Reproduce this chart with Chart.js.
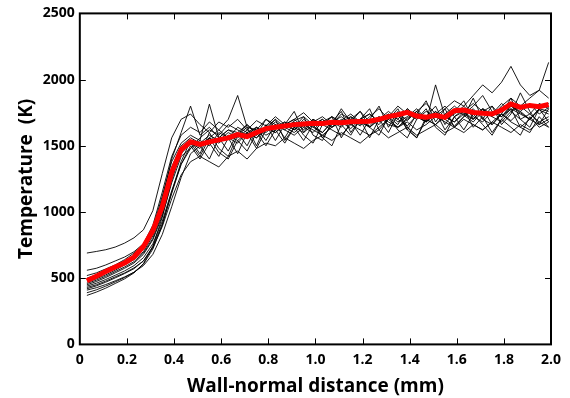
<!DOCTYPE html>
<html>
<head>
<meta charset="utf-8">
<script src="https://cdn.jsdelivr.net/npm/chart.js@4.4.0/dist/chart.umd.min.js"></script>
<style>
  html, body { margin: 0; padding: 0; background: #fff; }
  #wrap { width: 570px; height: 398px; }
</style>
</head>
<body>
<div id="wrap"><canvas id="myChart"></canvas></div>
<script>
// wall-normal distance (mm) of each sample
var xDist = [0.03,0.07,0.11,0.15,0.19,0.23,0.27,0.31,0.35,0.39,
             0.43,0.47,0.51,0.55,0.59,0.63,0.67,0.71,0.75,0.79,
             0.83,0.87,0.91,0.95,0.99,1.03,1.07,1.11,1.15,1.19,
             1.23,1.27,1.31,1.35,1.39,1.43,1.47,1.51,1.55,1.59,
             1.63,1.67,1.71,1.75,1.79,1.83,1.87,1.91,1.95,1.99];

// mean temperature (red)
var meanTemp = [480,515,550,585,615,660,740,860,1040,1300,
                1470,1530,1510,1530,1545,1560,1585,1570,1600,1630,
                1640,1650,1660,1665,1670,1668,1677,1675,1682,1684,
                1686,1700,1720,1735,1752,1725,1715,1730,1715,1765,
                1770,1752,1745,1740,1770,1816,1790,1805,1795,1812];

// single shots (black)
var run1 = [690,702,715,735,765,805,865,1010,1290,1560,
            1700,1740,1660,1600,1680,1640,1700,1620,1690,1650,
            1720,1660,1700,1750,1680,1720,1660,1740,1700,1650,
            1720,1780,1700,1750,1690,1760,1820,1740,1700,1780,
            1730,1680,1760,1800,1720,1780,1740,1700,1770,1740];
var run2 = [560,575,600,630,660,700,760,900,1150,1420,
            1580,1640,1600,1680,1620,1700,1880,1640,1620,1700,
            1660,1620,1690,1720,1660,1700,1640,1690,1740,1680,
            1650,1720,1680,1640,1710,1760,1680,1740,1700,1650,
            1720,1780,1700,1660,1740,1690,1760,1820,1740,1790];
var run3 = [520,540,570,600,640,690,750,880,1120,1380,
            1520,1580,1540,1815,1560,1620,1580,1660,1600,1640,
            1700,1640,1680,1620,1700,1660,1720,1680,1630,1700,
            1740,1680,1720,1660,1780,1720,1680,1760,1700,1740,
            1800,1720,1680,1760,1720,1800,1750,1700,1780,1760];
var run4 = [500,525,555,590,630,670,730,860,1100,1400,
            1600,1800,1580,1640,1560,1620,1600,1660,1580,1700,
            1640,1680,1620,1700,1650,1600,1680,1640,1720,1680,
            1640,1700,1760,1700,1650,1730,1680,1960,1720,1680,
            1740,1700,1780,1720,1680,1760,1700,1740,1680,1720];
var run5 = [490,515,545,580,615,655,720,840,1060,1340,
            1500,1560,1520,1580,1540,1600,1560,1620,1580,1640,
            1600,1660,1620,1680,1640,1600,1680,1720,1660,1700,
            1740,1680,1720,1800,1740,1700,1760,1720,1780,1840,
            1800,1880,1960,1900,1980,2100,1960,1880,1920,1860];
var run6 = [470,495,525,560,600,640,700,820,1020,1300,
            1480,1540,1500,1560,1520,1580,1540,1600,1640,1580,
            1620,1680,1640,1600,1660,1700,1640,1680,1720,1660,
            1700,1660,1740,1700,1780,1720,1680,1740,1800,1720,
            1760,1700,1780,1740,1820,1760,1800,1860,1920,2130];
var run7 = [460,485,515,550,585,625,690,800,990,1260,
            1440,1520,1420,1560,1450,1400,1540,1460,1600,1500,
            1620,1520,1640,1540,1660,1560,1500,1660,1580,1700,
            1560,1700,1600,1740,1620,1560,1700,1760,1620,1720,
            1780,1640,1720,1600,1700,1640,1580,1720,1640,1680];
var run8 = [450,475,505,540,575,615,680,790,970,1220,
            1420,1480,1540,1500,1600,1560,1520,1600,1560,1640,
            1600,1660,1700,1640,1600,1680,1720,1660,1700,1760,
            1680,1720,1660,1640,1700,1760,1700,1660,1720,1680,
            1760,1820,1760,1720,1800,1860,1800,1740,1820,1780];
var run9 = [440,462,490,522,555,595,655,760,930,1160,
            1360,1500,1400,1520,1420,1560,1440,1600,1480,1620,
            1700,1540,1640,1720,1580,1540,1680,1760,1600,1700,
            1780,1620,1700,1780,1640,1560,1720,1800,1660,1760,
            1840,1700,1780,1660,1740,1860,1700,1640,1780,1680];
var run10 = [430,450,478,510,540,578,630,730,890,1100,
             1280,1380,1420,1380,1340,1420,1460,1400,1480,1520,
             1500,1560,1520,1480,1540,1580,1540,1600,1560,1520,
             1580,1620,1560,1600,1640,1580,1620,1660,1600,1640,
             1600,1660,1620,1680,1640,1600,1660,1620,1680,1640];
var run11 = [420,442,470,502,535,572,630,740,910,1140,
             1360,1480,1560,1620,1580,1660,1620,1580,1640,1600,
             1660,1620,1580,1640,1700,1660,1620,1580,1660,1700,
             1640,1700,1740,1680,1720,1780,1700,1660,1740,1800,
             1740,1800,1880,1760,1720,1800,1760,1700,1780,1820];
var run12 = [410,428,452,480,510,545,595,680,830,1040,
             1260,1440,1500,1400,1560,1460,1600,1500,1640,1540,
             1660,1560,1680,1580,1520,1660,1720,1560,1680,1760,
             1640,1580,1720,1620,1560,1700,1780,1640,1580,1720,
             1620,1740,1660,1580,1700,1780,1640,1600,1720,1640];
var run13 = [390,412,440,472,505,545,605,720,900,1150,
             1380,1540,1440,1600,1480,1420,1580,1640,1500,1660,
             1540,1660,1760,1600,1700,1560,1660,1780,1680,1580,
             1700,1800,1640,1760,1620,1740,1840,1680,1780,1640,
             1720,1860,1700,1800,1660,1740,1900,1760,1660,1780];
var run14 = [370,395,425,460,495,540,610,740,960,1240,
             1460,1520,1480,1560,1620,1560,1640,1600,1560,1620,
             1680,1640,1600,1660,1620,1580,1640,1700,1660,1620,
             1580,1640,1700,1640,1680,1620,1660,1720,1680,1640,
             1700,1660,1620,1680,1740,1680,1640,1700,1660,1700];

var runs = [run1,run2,run3,run4,run5,run6,run7,run8,run9,run10,run11,run12,run13,run14];

function toPoints(arr) {
  return arr.map(function(v, i) { return {x: xDist[i], y: v}; });
}

var datasets = [{
  data: toPoints(meanTemp),
  borderColor: '#ff0000',
  borderWidth: 5,
  order: 0
}];
runs.forEach(function(r) {
  datasets.push({ data: toPoints(r), borderColor: '#000', borderWidth: 0.9, order: 1 });
});

// box frame + inward tick marks on all four sides
var frame = {
  id: 'frame',
  afterDraw: function(chart) {
    var ctx = chart.ctx, a = chart.chartArea;
    var xs = chart.scales.x, ys = chart.scales.y;
    ctx.save();
    ctx.strokeStyle = '#000';
    ctx.lineWidth = 1;
    ctx.beginPath();
    xs.ticks.forEach(function(t) {
      if (t.value <= 0 || t.value >= 2) return;
      var px = Math.round(xs.getPixelForValue(t.value)) + 0.5;
      ctx.moveTo(px, a.bottom); ctx.lineTo(px, a.bottom - 6);
      ctx.moveTo(px, a.top); ctx.lineTo(px, a.top + 6);
    });
    ys.ticks.forEach(function(t) {
      if (t.value <= 0 || t.value >= 2500) return;
      var py = Math.round(ys.getPixelForValue(t.value)) + 0.5;
      ctx.moveTo(a.left, py); ctx.lineTo(a.left + 6, py);
      ctx.moveTo(a.right, py); ctx.lineTo(a.right - 6, py);
    });
    ctx.stroke();
    ctx.lineWidth = 2;
    ctx.strokeRect(a.left, a.top, a.right - a.left, a.bottom - a.top);
    ctx.restore();
  }
};

var tickFont = { family: 'Open Sans', size: 14, weight: 'bold' };
var titleFont = { family: 'Open Sans', size: 19, weight: 'bold' };

var ctx = document.getElementById('myChart').getContext('2d');
var chart = new Chart(ctx, {
  type: 'line',
  data: { datasets: datasets },
  options: {
    responsive: true,
    maintainAspectRatio: false,
    animation: false,
    layout: { padding: { top: 0, right: 19, left: 15, bottom: 0 } },
    elements: { point: { radius: 0 }, line: { tension: 0 } },
    plugins: { legend: { display: false }, tooltip: { enabled: false } },
    scales: {
      x: {
        type: 'linear', min: 0, max: 2,
        grid: { display: false, drawTicks: false },
        border: { display: false },
        ticks: {
          stepSize: 0.2, color: '#000', font: tickFont, padding: 7, maxRotation: 0, autoSkip: false,
          callback: function(v) { return v === 0 ? '0' : v.toFixed(1); }
        },
        title: { display: true, text: 'Wall-normal distance (mm)', color: '#000', font: titleFont, padding: { top: 0, bottom: 0 } }
      },
      y: {
        min: 0, max: 2500,
        grid: { display: false, drawTicks: false },
        border: { display: false },
        ticks: { stepSize: 500, color: '#000', font: tickFont, padding: 5,
          callback: function(v) { return String(v); } },
        title: { display: true, text: 'Temperature  (K)', color: '#000', font: titleFont, padding: { top: 0, bottom: 0 } }
      }
    }
  },
  plugins: [frame]
});
</script>
</body>
</html>
